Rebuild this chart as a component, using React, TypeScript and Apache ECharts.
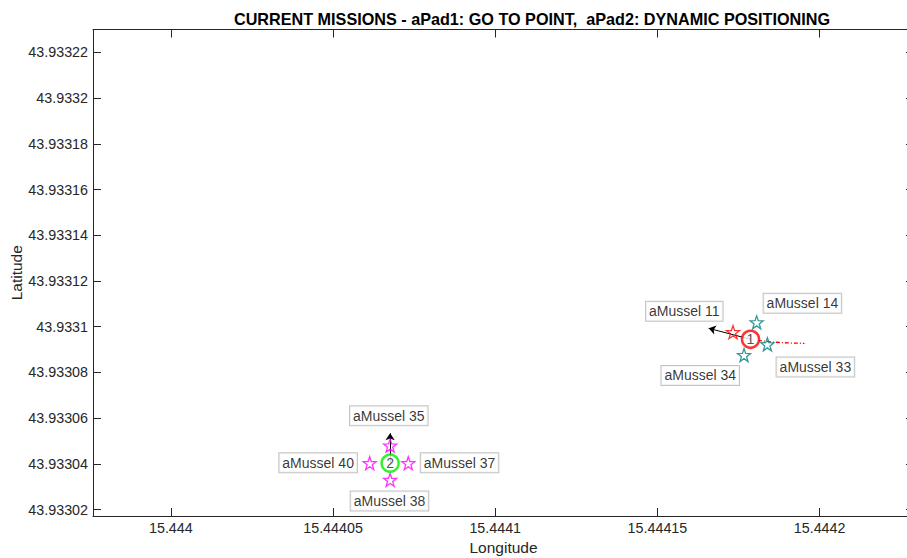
import React, { useEffect, useRef } from "react";
import * as echarts from "echarts";

// Axis limits and tick positions (degrees)
const LON_MIN = 15.443976;
const LON_MAX = 15.4442291;
const LAT_MIN = 43.9330172;
const LAT_MAX = 43.93323;
const LON_TICKS = [15.444, 15.44405, 15.4441, 15.44415, 15.4442];
const LAT_TICKS = [
  43.93302, 43.93304, 43.93306, 43.93308, 43.9331, 43.93312, 43.93314, 43.93316,
  43.93318, 43.9332, 43.93322,
];

// aPad vehicles: position and heading tip
const padNames = ["1", "2"];
const padLon = [15.4441787, 15.4440676];
const padLat = [43.9330945, 43.9330403];
const headingLon = [15.4441658, 15.4440676];
const headingLat = [43.9330993, 43.9330534];

// aMussel buoys
const musselNames = [
  "aMussel 11",
  "aMussel 14",
  "aMussel 33",
  "aMussel 34",
  "aMussel 35",
  "aMussel 40",
  "aMussel 37",
  "aMussel 38",
];
const musselRole = ["target", "pad1", "pad1", "pad1", "pad2", "pad2", "pad2", "pad2"];
const musselLon = [
  15.4441733, 15.4441806, 15.4441839, 15.4441767, 15.4440676, 15.4440613, 15.4440732,
  15.4440676,
];
const musselLat = [
  43.9330976, 43.9331019, 43.9330923, 43.9330876, 43.933048, 43.9330403, 43.9330403,
  43.933033,
];
// anchor of each name tag
const tagLon = [
  15.4441583, 15.4441947, 15.4441987, 15.4441632, 15.4440672, 15.4440454, 15.444089,
  15.4440674,
];
const tagLat = [
  43.9331068, 43.9331103, 43.9330824, 43.9330787, 43.9330611, 43.9330405, 43.9330405,
  43.9330238,
];

// aPad1 travelled track
const trackLon = [15.444181, 15.4441853, 15.4441902, 15.4441957];
const trackLat = [43.933094, 43.9330933, 43.9330929, 43.9330927];
const startLon = [15.4441964];
const startLat = [43.9330931];

const FONT = '"Liberation Sans", Arial, Helvetica, sans-serif';
const INK = "#262626";
const STAR =
  "path://M0,-10L2.35,-3.24L9.51,-3.09L3.8,1.24L5.88,8.09L0,4L-5.88,8.09L-3.8,1.24L-9.51,-3.09L-2.35,-3.24Z";
const roleColor: Record<string, string> = {
  target: "#ff0000",
  pad1: "#008080",
  pad2: "#ff00ff",
};
const padColor = ["#ff0000", "#00ee00"];

const fmt = (v: number) => String(Number(Number(v).toFixed(5)));

function starSeries(role: string) {
  const data = musselNames
    .map((n, i) => ({ name: n, value: [musselLon[i], musselLat[i]], role: musselRole[i] }))
    .filter((d) => d.role === role)
    .map(({ name, value }) => ({ name, value }));
  return {
    type: "scatter",
    data,
    symbol: STAR,
    symbolSize: 13,
    itemStyle: { color: "transparent", borderColor: roleColor[role], borderWidth: 1.3 },
    z: 4,
    silent: true,
  };
}

export default function App() {
  const ref = useRef<HTMLDivElement>(null);

  useEffect(() => {
    document.body.style.margin = "0";
    const chart = echarts.init(ref.current!, null, { renderer: "svg" });

    const axisCommon = {
      type: "value",
      axisLine: { show: true, lineStyle: { color: INK, width: 1 } },
      splitLine: { show: false },
    };

    chart.setOption({
      animation: false,
      backgroundColor: "#ffffff",
      title: {
        text: "CURRENT MISSIONS - aPad1: GO TO POINT,  aPad2: DYNAMIC POSITIONING",
        left: 527,
        textAlign: "center",
        top: 6,
        textStyle: { fontFamily: FONT, fontSize: 16.2, fontWeight: "bold", color: "#000" },
      },
      grid: {
        left: 93,
        right: -7,
        top: 29.5,
        bottom: 42,
        containLabel: false,
        outerBoundsMode: "none",
      },
      xAxis: [
        {
          ...axisCommon,
          position: "bottom",
          min: LON_MIN,
          max: LON_MAX,
          name: "Longitude",
          nameLocation: "middle",
          nameGap: 23,
          nameMoveOverlap: false,
          nameTextStyle: { fontFamily: FONT, fontSize: 15.5, color: INK },
          axisTick: { show: true, inside: true, length: 8, customValues: LON_TICKS, lineStyle: { color: INK } },
          axisLabel: {
            show: true,
            customValues: LON_TICKS,
            margin: 5,
            fontFamily: FONT,
            fontSize: 14.3,
            color: INK,
            formatter: fmt,
          },
        },
        {
          ...axisCommon,
          position: "top",
          min: LON_MIN,
          max: LON_MAX,
          axisTick: { show: true, inside: true, length: 8, customValues: LON_TICKS, lineStyle: { color: INK } },
          axisLabel: { show: false },
        },
      ],
      yAxis: [
        {
          ...axisCommon,
          position: "left",
          min: LAT_MIN,
          max: LAT_MAX,
          name: "Latitude",
          nameLocation: "middle",
          nameGap: 69,
          nameMoveOverlap: false,
          nameTextStyle: { fontFamily: FONT, fontSize: 15.5, color: INK },
          axisTick: { show: true, inside: true, length: 8, customValues: LAT_TICKS, lineStyle: { color: INK } },
          axisLabel: {
            show: true,
            customValues: LAT_TICKS,
            margin: 5,
            fontFamily: FONT,
            fontSize: 14.3,
            color: INK,
            formatter: fmt,
          },
        },
        {
          ...axisCommon,
          position: "right",
          min: LAT_MIN,
          max: LAT_MAX,
          axisTick: { show: true, inside: true, length: 8, customValues: LAT_TICKS, lineStyle: { color: INK } },
          axisLabel: { show: false },
        },
      ],
      series: [
        // travelled track of aPad1
        {
          type: "line",
          data: trackLon.map((x, i) => [x, trackLat[i]]),
          symbol: "none",
          lineStyle: { color: "#ff0000", width: 1.3, type: [4, 2, 1, 2] },
          z: 2,
          silent: true,
        },
        {
          type: "scatter",
          data: startLon.map((x, i) => [x, startLat[i]]),
          symbol: "emptyCircle",
          symbolSize: 6,
          itemStyle: { color: "#ffffff", borderColor: "#33dd33", borderWidth: 1.2, borderType: "dotted" },
          z: 2,
          silent: true,
        },
        // heading arrows
        {
          type: "lines",
          coordinateSystem: "cartesian2d",
          data: padLon.map((x, i) => ({
            coords: [
              [x, padLat[i]],
              [headingLon[i], headingLat[i]],
            ],
          })),
          symbol: ["none", "arrow"],
          symbolSize: 7,
          lineStyle: { color: "#000000", width: 1, opacity: 1 },
          z: 3,
          silent: true,
        },
        starSeries("target"),
        starSeries("pad1"),
        starSeries("pad2"),
        // aPad vehicles
        {
          type: "scatter",
          data: padNames.map((n, i) => ({
            name: n,
            value: [padLon[i], padLat[i]],
            itemStyle: { color: "#ffffff", borderColor: padColor[i], borderWidth: 2.5 },
          })),
          symbol: "circle",
          symbolSize: 17,
          label: {
            show: true,
            position: "inside",
            formatter: (p: any) => p.name,
            fontFamily: FONT,
            fontSize: 14,
            color: INK,
          },
          z: 5,
          silent: true,
        },
        // name tags
        {
          type: "scatter",
          data: musselNames.map((n, i) => ({ name: n, value: [tagLon[i], tagLat[i]] })),
          symbolSize: 1,
          itemStyle: { color: "transparent" },
          label: {
            show: true,
            position: "inside",
            formatter: (p: any) => p.name,
            fontFamily: FONT,
            fontSize: 14,
            color: "#000000",
            backgroundColor: "#ffffff",
            borderColor: "#b4b4b4",
            borderWidth: 1,
            padding: [3, 3, 2, 3],
          },
          z: 6,
          silent: true,
        },
      ],
    });

    return () => chart.dispose();
  }, []);

  return <div ref={ref} style={{ width: 907, height: 558 }} />;
}
